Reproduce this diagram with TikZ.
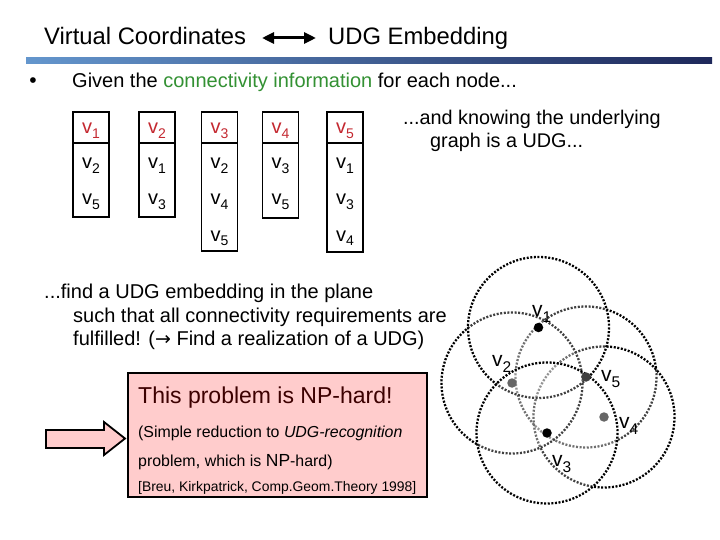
\documentclass[tikz,border=0pt]{standalone}
\usepackage{fontspec}
\setmainfont{Liberation Sans}
\newfontfamily\dejavu{DejaVu Sans}
\usetikzlibrary{arrows.meta}
\newcommand{\myfs}[1]{\fontsize{#1}{#1}\selectfont}
\newcommand{\tv}[1]{v\raisebox{-4.5pt}{\myfs{14}#1}}
\newcommand{\cv}[1]{v\raisebox{-6pt}{\myfs{15.5}#1}}
\definecolor{cgreen}{RGB}{51,145,51}
\definecolor{cred}{RGB}{196,40,48}
\definecolor{cpink}{RGB}{255,204,204}
\definecolor{cmaroon}{RGB}{60,0,0}
\definecolor{barl}{RGB}{100,150,205}
\definecolor{barr}{RGB}{30,40,90}
\tikzset{
  hdr/.style={anchor=base west, inner sep=0pt, font=\myfs{23.8}},
  body/.style={anchor=base west, inner sep=0pt, font=\myfs{20}},
  cell/.style={anchor=base, inner sep=0pt, font=\myfs{20}},
  hcell/.style={cell, text=cred},
  colbox/.style={draw=black, line width=1.6pt},
  boxtxt/.style={anchor=base west, inner sep=0pt},
  udg/.style={draw=black, line width=2.3pt, dash pattern=on 2pt off 1.6pt},
  veil/.style={fill=white, fill opacity=0.25},
  dot/.style={circle, inner sep=0pt, minimum size=9.5pt},
  vlab/.style={anchor=base west, inner sep=0pt, font=\myfs{21}}
}
\begin{document}
\begin{tikzpicture}[x=1pt,y=-1pt]
\useasboundingbox (0,0) rectangle (720,540);
\fill[white] (0,0) rectangle (720,540);
% header
\node[hdr] (vc) at (44,45) {Virtual Coordinates};
\node[hdr] (ue) at (328,45) {UDG Embedding};
\coordinate (al) at (262,38);
\coordinate (ar) at (316,38);
\draw[line width=3pt, {Stealth[length=12pt,width=11pt,inset=0pt]}-{Stealth[length=12pt,width=11pt,inset=0pt]}] (al) -- (ar);
\shade[left color=barl, right color=barr] (26,58) rectangle (712,64);
% bullet line
\node[anchor=base, inner sep=0pt, font=\myfs{21}] (bul) at (33,88) {•};
\node[body] (given) at (72,88) {Given the \textcolor{cgreen}{connectivity information} for each node...};
% tables
\draw[colbox] (73,112) rectangle (109,217); \draw[colbox] (73,143) -- (109,143);
\draw[colbox] (139,112) rectangle (175,217); \draw[colbox] (139,143) -- (175,143);
\draw[colbox] (201.5,112) rectangle (237.5,251); \draw[colbox] (201.5,143) -- (237.5,143);
\draw[colbox] (262.5,112) rectangle (298.5,218); \draw[colbox] (262.5,143) -- (298.5,143);
\draw[colbox] (327,112) rectangle (363,252); \draw[colbox] (327,143) -- (363,143);
\node[hcell] (h1) at (91,134) {\tv{1}};
\node[hcell] (h2) at (157,134) {\tv{2}};
\node[hcell] (h3) at (219.5,134) {\tv{3}};
\node[hcell] (h4) at (280.5,134) {\tv{4}};
\node[hcell] (h5) at (345,134) {\tv{5}};
\node[cell] (a1) at (91,169) {\tv{2}};
\node[cell] (a2) at (91,205) {\tv{5}};
\node[cell] (b1) at (157,169) {\tv{1}};
\node[cell] (b2) at (157,205) {\tv{3}};
\node[cell] (c1) at (219.5,169) {\tv{2}};
\node[cell] (c2) at (219.5,205) {\tv{4}};
\node[cell] (c3) at (219.5,241) {\tv{5}};
\node[cell] (d1) at (280.5,169) {\tv{3}};
\node[cell] (d2) at (280.5,205) {\tv{5}};
\node[cell] (e1) at (345,169) {\tv{1}};
\node[cell] (e2) at (345,205) {\tv{3}};
\node[cell] (e3) at (345,241) {\tv{4}};
% right text
\node[body, font=\myfs{19.8}] (k1) at (403,125) {...and knowing the underlying};
\node[body, font=\myfs{19.8}] (k2) at (430,148) {graph is a UDG...};
% find paragraph
\node[body] (f1) at (44,298) {...find a UDG embedding in the plane};
\node[body] (f2) at (73,322) {such that all connectivity requirements are};
\node[body] (f3) at (73,345) {fulfilled! ({\dejavu\myfs{19}→} Find a realization of a UDG)};
% pink box
\draw[fill=cpink, line width=1.8pt] (128,373) rectangle (427,497);
\node[boxtxt, font=\myfs{23}, text=cmaroon] (t1) at (138,403) {This problem is NP-hard!};
\node[boxtxt, font=\myfs{15.9}] (t2) at (138,437) {(Simple reduction to \textit{UDG-recognition}};
\node[boxtxt, font=\myfs{15.9}] (t3) at (138,466) {problem{\myfs{17.5},} which is {\myfs{17.5}NP}-hard)};
\node[boxtxt, font=\myfs{13.9}] (t4) at (138,491) {[Breu, Kirkpatrick, Comp.Geom.Theory 1998]};
% block arrow
\draw[fill=cpink, line width=1.8pt, line join=miter]
  (46,430) -- (104,430) -- (104,422) -- (125,438.5) -- (104,455) -- (104,448) -- (46,448) -- cycle;
% UDG embedding
\coordinate (p1) at (538.5,327.5);
\coordinate (p2) at (512,383);
\coordinate (p3) at (547,433);
\coordinate (p4) at (604,417);
\coordinate (p5) at (586,377);
\foreach \p in {p5,p4,p2,p1,p3}{
  \path[veil] (\p) circle[radius=70.5];
  \draw[udg] (\p) circle[radius=70.5];
}
\node[dot, fill=black] (d1) at (p1) {};
\node[dot, fill=black!60] (d2) at (p2) {};
\node[dot, fill=black] (d3) at (p3) {};
\node[dot, fill=black!60] (d4) at (p4) {};
\node[dot, fill=black!75] (d5) at (p5) {};
\node[vlab] (l1) at (532,316) {\cv{1}};
\node[vlab] (l2) at (492,366) {\cv{2}};
\node[vlab] (l5) at (601,381) {\cv{5}};
\node[vlab] (l4) at (619,428) {\cv{4}};
\node[vlab] (l3) at (552,466) {\cv{3}};
\end{tikzpicture}
\end{document}
